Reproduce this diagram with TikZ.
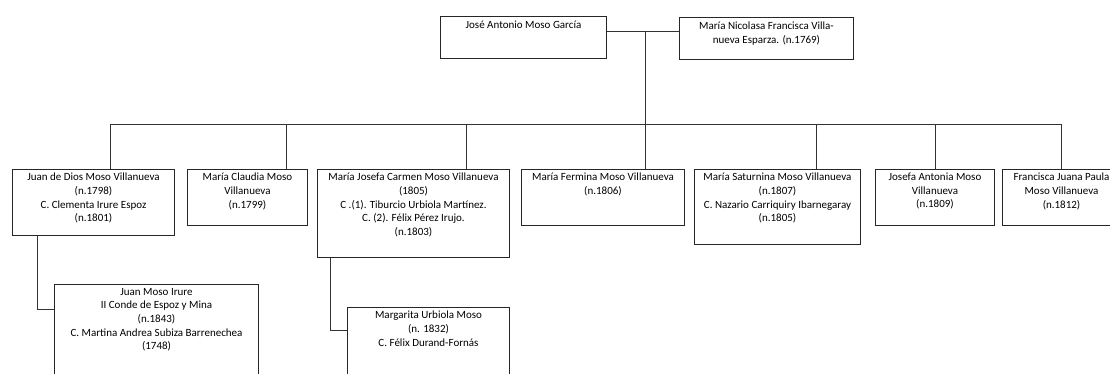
\documentclass[tikz,border=0pt]{standalone}
\usepackage{fontspec}
\setmainfont{Carlito}
\begin{document}
\begin{tikzpicture}[x=1pt,y=-1pt,
  person/.style={draw=black!85,line width=1pt,rectangle,anchor=north west,inner sep=0pt},
  label/.style={anchor=north,align=center,inner sep=0pt,text=black,font=\fontsize{11}{13.6}\selectfont},
  link/.style={draw=black!80,line width=1pt}]
\clip (0,0) rectangle (1110,373);
\fill[white] (0,0) rectangle (1110,373);
% parents
\node[person,minimum width=166,minimum height=42] (jose) at (440,16) {};
\node[label] at ([yshift=-5]jose.north) {José Antonio Moso García};
\node[person,minimum width=174,minimum height=42] (nicolasa) at (679,17) {};
\node[label] at ([yshift=-5]nicolasa.north) {María Nicolasa Francisca Villa-\\nueva Esparza. (n.1769)};
% children
\node[person,minimum width=162,minimum height=66] (juan) at (12,169) {};
\node[label] at ([yshift=-4]juan.north) {Juan de Dios Moso Villanueva\\(n.1798)\\C. Clementa Irure Espoz\\(n.1801)};
\node[person,minimum width=120,minimum height=56] (claudia) at (187,169) {};
\node[label] at ([yshift=-4]claudia.north) {María Claudia Moso\\Villanueva\\(n.1799)};
\node[person,minimum width=192,minimum height=88] (josefa) at (317,169) {};
\node[label] at ([yshift=-4]josefa.north) {María Josefa Carmen Moso Villanueva\\(1805)\\C .(1). Tiburcio Urbiola Martínez.\\C. (2). Félix Pérez Irujo.\\(n.1803)};
\node[person,minimum width=163,minimum height=56] (fermina) at (521,169) {};
\node[label] at ([yshift=-4]fermina.north) {María Fermina Moso Villanueva\\(n.1806)};
\node[person,minimum width=166,minimum height=75] (saturnina) at (694,169) {};
\node[label] at ([yshift=-4]saturnina.north) {María Saturnina Moso Villanueva\\(n.1807)\\C. Nazario Carriquiry Ibarnegaray\\(n.1805)};
\node[person,minimum width=119,minimum height=56] (jantonia) at (875,169) {};
\node[label] at ([yshift=-4]jantonia.north) {Josefa Antonia Moso\\Villanueva\\(n.1809)};
\node[person,minimum width=118,minimum height=56] (francisca) at (1002,169) {};
\node[label] at ([yshift=-4]francisca.north) {Francisca Juana Paula\\Moso Villanueva\\(n.1812)};
% grandchildren
\node[person,minimum width=204,minimum height=120] (irure) at (54,284) {};
\node[label] at ([yshift=-4]irure.north) {Juan Moso Irure\\II Conde de Espoz y Mina\\(n.1843)\\C. Martina Andrea Subiza Barrenechea\\(1748)};
\node[person,minimum width=162,minimum height=100] (margarita) at (347,307) {};
\node[label] at ([yshift=-4]margarita.north) {Margarita Urbiola Moso\\(n. 1832)\\C. Félix Durand-Fornás};
% connectors
\coordinate (m) at (645,31);
\coordinate (c1) at (110,124);
\coordinate (c2) at (286,124);
\coordinate (c3) at (466,124);
\coordinate (c4) at (645,124);
\coordinate (c5) at (816,124);
\coordinate (c6) at (935,124);
\coordinate (c7) at (1061,124);
\coordinate (k1) at (37,309);
\coordinate (k2) at (330,330);
\draw[link] (jose.east |- m) -- (nicolasa.west |- m);
\draw[link] (m) -- (c4);
\draw[link] (c1) -- (c7);
\draw[link] (c1) -- (c1 |- juan.north);
\draw[link] (c2) -- (c2 |- claudia.north);
\draw[link] (c3) -- (c3 |- josefa.north);
\draw[link] (c4) -- (c4 |- fermina.north);
\draw[link] (c5) -- (c5 |- saturnina.north);
\draw[link] (c6) -- (c6 |- jantonia.north);
\draw[link] (c7) -- (c7 |- francisca.north);
\draw[link] (juan.south -| k1) -- (k1) -- (k1 -| irure.west);
\draw[link] (josefa.south -| k2) -- (k2) -- (k2 -| margarita.west);
\end{tikzpicture}
\end{document}
